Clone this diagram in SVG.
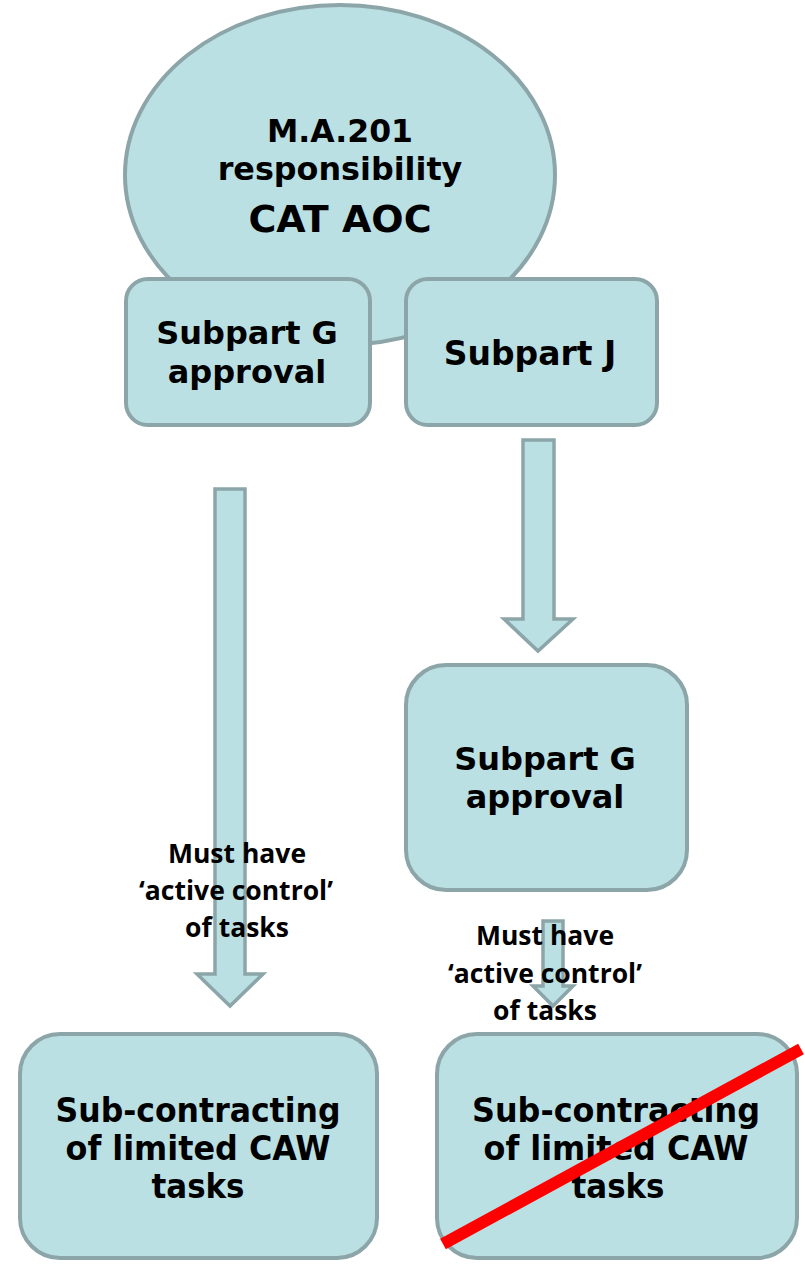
<svg xmlns="http://www.w3.org/2000/svg" width="805" height="1268" viewBox="0 0 805 1268">
<style>
.shape{fill:#bbe0e3;stroke:#8ca5a8;stroke-width:4}
.arrow{fill:#bbe0e3;stroke:#8ca5a8;stroke-width:3.5;stroke-linejoin:miter}
.v{font-family:"DejaVu Sans","Verdana",sans-serif;font-weight:bold;fill:#000;text-anchor:middle}
.c{font-family:"Open Sans","Lato",sans-serif;font-weight:bold;fill:#000;text-anchor:middle;font-size:26.5px}
.cond{font-family:"DejaVu Sans Condensed","DejaVu Sans",sans-serif;font-weight:bold;fill:#000;text-anchor:middle;font-size:34px}
</style>
<rect width="805" height="1268" fill="#ffffff"/>

<g id="aoc">
<ellipse class="shape" cx="340" cy="175" rx="215" ry="170"/>
<text class="v" x="340" y="142" font-size="31.5">M.A.201</text>
<text class="v" x="340" y="180" font-size="31.8">responsibility</text>
<text class="v" x="340" y="232" font-size="38">CAT AOC</text>
</g>

<g id="subpartG1">
<rect class="shape" x="126" y="279" width="244" height="146" rx="22"/>
<text class="v" x="247" y="344" font-size="32">Subpart G</text>
<text class="v" x="247" y="383" font-size="32">approval</text>
</g>

<g id="subpartJ">
<rect class="shape" x="406" y="279" width="251" height="146" rx="22"/>
<text class="v" x="530" y="365" font-size="33">Subpart J</text>
</g>

<g id="connectors">
<polygon class="arrow" points="215,489 245,489 245,974 263,974 230,1006 197,974 215,974"/>
<polygon class="arrow" points="523,440 554,440 554,619 573,619 538,651 504,619 523,619"/>
<polygon class="arrow" points="543,921 563,921 563,986 573,986 553,1006 533,986 543,986"/>
</g>

<g id="subpartG2">
<rect class="shape" x="406" y="665" width="281" height="225" rx="40"/>
<text class="v" x="545" y="770" font-size="32">Subpart G</text>
<text class="v" x="545" y="808" font-size="32">approval</text>
</g>

<g id="label1">
<text class="c" x="237" y="863">Must have</text>
<text class="c" x="236" y="900">‘active control’</text>
<text class="c" x="237" y="937">of tasks</text>
</g>

<g id="label2">
<text class="c" x="545" y="945">Must have</text>
<text class="c" x="545" y="983">‘active control’</text>
<text class="c" x="545" y="1020">of tasks</text>
</g>

<g id="subcontract1">
<rect class="shape" x="20" y="1034" width="357" height="224" rx="40"/>
<text class="cond" x="198" y="1122" textLength="285" lengthAdjust="spacingAndGlyphs">Sub-contracting</text>
<text class="cond" x="198" y="1160" textLength="265" lengthAdjust="spacingAndGlyphs">of limited CAW</text>
<text class="cond" x="198" y="1198" textLength="93" lengthAdjust="spacingAndGlyphs">tasks</text>
</g>

<g id="subcontract2">
<rect class="shape" x="437" y="1034" width="360" height="224" rx="40"/>
<text class="cond" x="616" y="1122" textLength="288" lengthAdjust="spacingAndGlyphs">Sub-contracting</text>
<text class="cond" x="616" y="1160" textLength="265" lengthAdjust="spacingAndGlyphs">of limited CAW</text>
<text class="cond" x="618" y="1198" textLength="93" lengthAdjust="spacingAndGlyphs">tasks</text>
<line x1="443" y1="1244" x2="801" y2="1049" stroke="#ff0000" stroke-width="12"/>
</g>
</svg>
